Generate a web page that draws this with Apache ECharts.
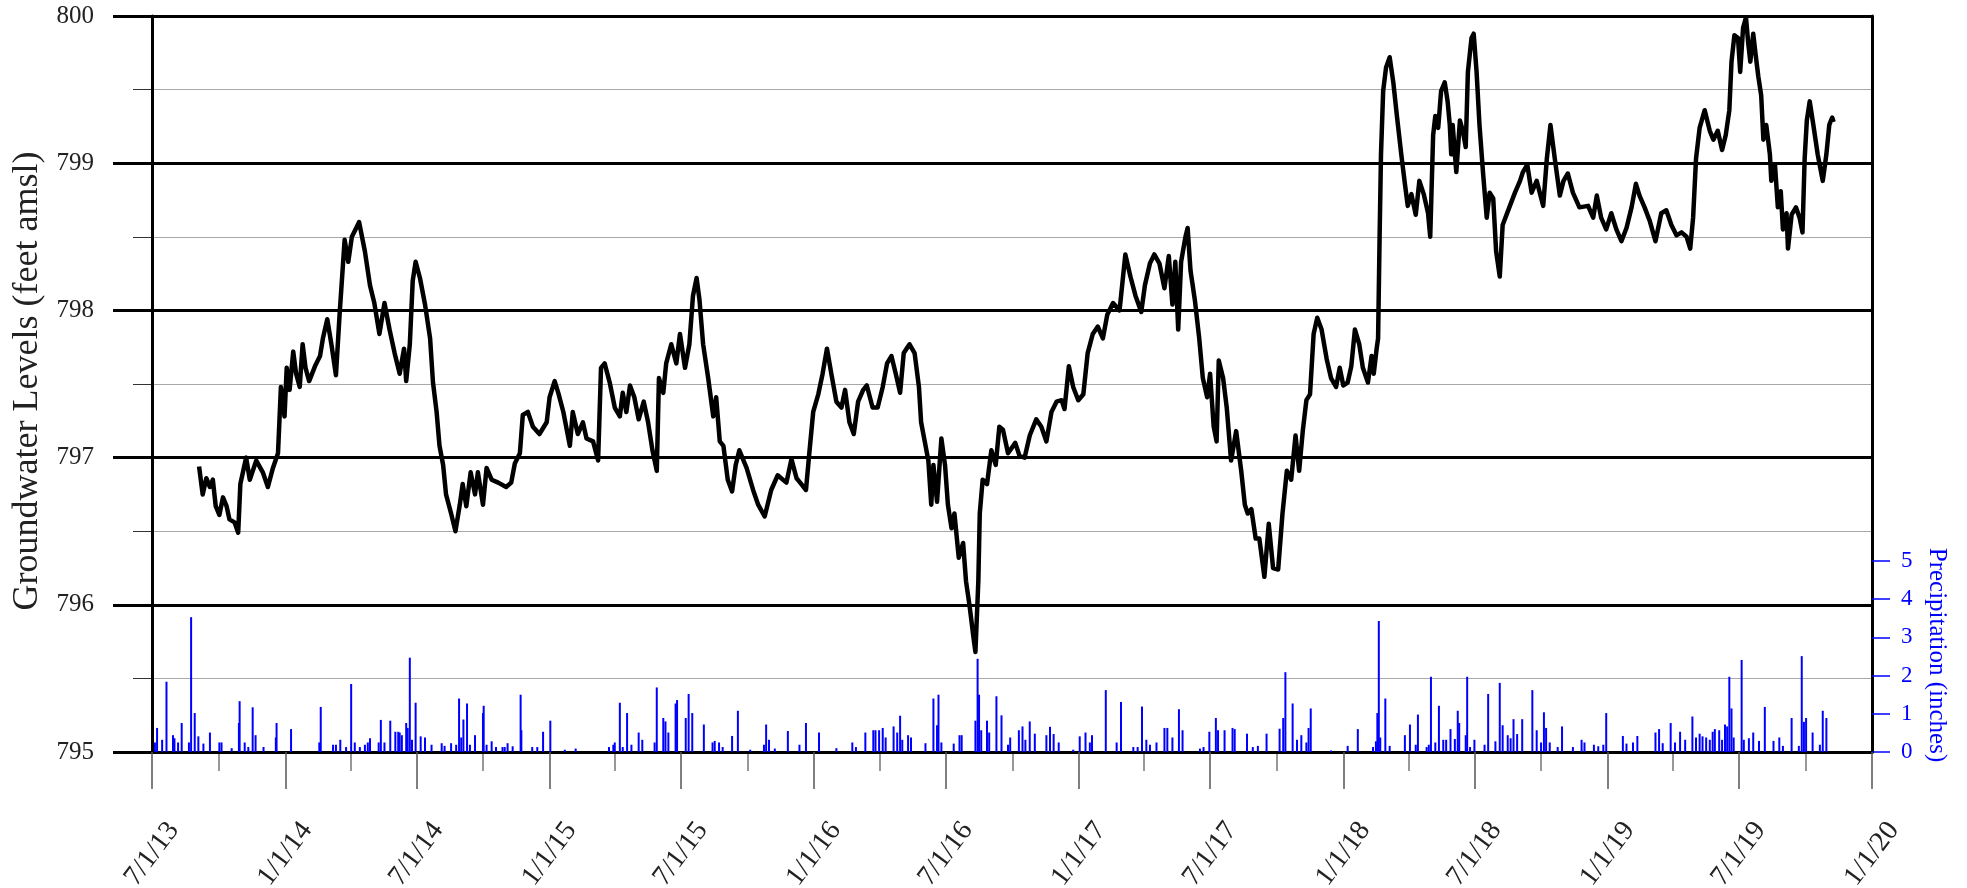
<!DOCTYPE html>
<html><head><meta charset="utf-8">
<script src="https://cdn.jsdelivr.net/npm/echarts@6/dist/echarts.min.js"></script>
<style>html,body{margin:0;padding:0;background:#fff}#c{width:1967px;height:888px}</style>
</head><body><div id="c"></div>
<script>
// ---- data ----
const groundwaterLevels = [
['2013-09-04',796.94],['2013-09-09',796.75],['2013-09-14',796.86],['2013-09-19',796.80],['2013-09-23',796.85],['2013-09-27',796.67],
['2013-10-02',796.61],['2013-10-07',796.73],['2013-10-12',796.67],['2013-10-16',796.58],['2013-10-23',796.56],['2013-10-28',796.49],
['2013-10-31',796.82],['2013-11-08',797.00],['2013-11-13',796.85],['2013-11-22',796.98],['2013-12-01',796.90],['2013-12-08',796.80],
['2013-12-15',796.93],['2013-12-22',797.03],['2013-12-26',797.48],['2013-12-31',797.28],['2014-01-03',797.61],['2014-01-07',797.46],
['2014-01-12',797.72],['2014-01-16',797.57],['2014-01-21',797.48],['2014-01-25',797.77],['2014-01-29',797.61],['2014-02-03',797.52],
['2014-02-11',797.62],['2014-02-18',797.69],['2014-02-22',797.81],['2014-02-28',797.94],['2014-03-06',797.76],['2014-03-12',797.56],
['2014-03-17',797.97],['2014-03-24',798.48],['2014-03-29',798.33],['2014-04-03',798.50],['2014-04-09',798.56],['2014-04-13',798.60],
['2014-04-21',798.40],['2014-04-28',798.17],['2014-05-04',798.05],['2014-05-11',797.84],['2014-05-18',798.05],['2014-05-25',797.87],
['2014-06-01',797.71],['2014-06-08',797.57],['2014-06-14',797.74],['2014-06-17',797.52],['2014-06-22',797.77],['2014-06-26',798.20],
['2014-06-30',798.33],['2014-07-06',798.22],['2014-07-13',798.04],['2014-07-20',797.81],['2014-07-24',797.51],['2014-07-29',797.31],
['2014-08-02',797.08],['2014-08-07',796.95],['2014-08-11',796.75],['2014-08-18',796.62],['2014-08-24',796.50],['2014-08-30',796.68],
['2014-09-03',796.82],['2014-09-08',796.67],['2014-09-14',796.90],['2014-09-20',796.75],['2014-09-24',796.90],['2014-10-01',796.68],
['2014-10-06',796.93],['2014-10-13',796.85],['2014-10-22',796.83],['2014-11-02',796.80],['2014-11-09',796.83],['2014-11-14',796.96],
['2014-11-21',797.03],['2014-11-25',797.29],['2014-12-02',797.31],['2014-12-09',797.21],['2014-12-18',797.16],['2014-12-28',797.24],
['2015-01-01',797.41],['2015-01-08',797.52],['2015-01-13',797.44],['2015-01-20',797.31],['2015-01-29',797.08],['2015-02-02',797.31],
['2015-02-09',797.16],['2015-02-16',797.24],['2015-02-21',797.13],['2015-03-02',797.11],['2015-03-09',796.98],['2015-03-13',797.61],
['2015-03-18',797.64],['2015-03-25',797.51],['2015-04-01',797.34],['2015-04-08',797.28],['2015-04-12',797.44],['2015-04-17',797.31],
['2015-04-22',797.49],['2015-04-28',797.41],['2015-05-04',797.26],['2015-05-11',797.38],['2015-05-17',797.24],['2015-05-23',797.05],
['2015-05-29',796.91],['2015-06-01',797.54],['2015-06-07',797.44],['2015-06-11',797.64],['2015-06-18',797.77],['2015-06-25',797.64],
['2015-06-30',797.84],['2015-07-07',797.61],['2015-07-13',797.77],['2015-07-18',798.10],['2015-07-23',798.22],['2015-07-27',798.07],
['2015-08-01',797.77],['2015-08-08',797.54],['2015-08-15',797.28],['2015-08-19',797.41],['2015-08-24',797.11],['2015-08-29',797.08],
['2015-09-04',796.85],['2015-09-10',796.77],['2015-09-15',796.95],['2015-09-20',797.05],['2015-09-30',796.93],['2015-10-09',796.78],
['2015-10-16',796.68],['2015-10-25',796.60],['2015-11-03',796.78],['2015-11-12',796.88],['2015-11-24',796.83],['2015-12-01',796.99],
['2015-12-08',796.86],['2015-12-13',796.83],['2015-12-21',796.78],['2015-12-26',797.05],['2015-12-31',797.31],['2016-01-07',797.43],
['2016-01-13',797.57],['2016-01-19',797.74],['2016-01-25',797.57],['2016-02-01',797.38],['2016-02-08',797.34],['2016-02-13',797.46],
['2016-02-19',797.24],['2016-02-25',797.16],['2016-03-02',797.38],['2016-03-09',797.46],['2016-03-14',797.49],['2016-03-22',797.34],
['2016-03-29',797.34],['2016-04-05',797.48],['2016-04-11',797.64],['2016-04-17',797.69],['2016-04-23',797.57],['2016-04-29',797.44],
['2016-05-04',797.71],['2016-05-12',797.77],['2016-05-19',797.71],['2016-05-25',797.48],['2016-05-28',797.24],['2016-06-02',797.11],
['2016-06-07',796.98],['2016-06-11',796.68],['2016-06-14',796.95],['2016-06-19',796.70],['2016-06-25',797.13],['2016-06-30',796.95],
['2016-07-04',796.68],['2016-07-09',796.52],['2016-07-13',796.62],['2016-07-19',796.32],['2016-07-25',796.42],['2016-07-29',796.16],
['2016-08-03',795.99],['2016-08-08',795.79],['2016-08-11',795.68],['2016-08-15',796.16],['2016-08-17',796.62],['2016-08-21',796.85],
['2016-08-27',796.82],['2016-09-02',797.05],['2016-09-08',796.95],['2016-09-13',797.21],['2016-09-18',797.19],['2016-09-25',797.03],
['2016-10-05',797.10],['2016-10-11',797.01],['2016-10-18',797.00],['2016-10-25',797.15],['2016-11-03',797.26],['2016-11-10',797.21],
['2016-11-17',797.11],['2016-11-24',797.31],['2016-12-01',797.38],['2016-12-08',797.39],['2016-12-12',797.33],['2016-12-18',797.62],
['2016-12-24',797.48],['2016-12-31',797.39],['2017-01-07',797.43],['2017-01-13',797.71],['2017-01-20',797.84],['2017-01-27',797.89],
['2017-02-03',797.81],['2017-02-09',797.97],['2017-02-17',798.05],['2017-02-26',798.00],['2017-03-06',798.38],['2017-03-13',798.23],
['2017-03-20',798.10],['2017-03-28',797.99],['2017-04-02',798.17],['2017-04-09',798.32],['2017-04-15',798.38],['2017-04-22',798.32],
['2017-04-29',798.15],['2017-05-05',798.37],['2017-05-10',798.04],['2017-05-14',798.33],['2017-05-18',797.87],['2017-05-22',798.33],
['2017-05-28',798.50],['2017-05-31',798.56],['2017-06-04',798.27],['2017-06-10',798.07],['2017-06-16',797.81],['2017-06-21',797.54],
['2017-06-27',797.41],['2017-07-01',797.57],['2017-07-06',797.21],['2017-07-10',797.11],['2017-07-13',797.66],['2017-07-19',797.54],
['2017-07-24',797.34],['2017-07-30',796.98],['2017-08-06',797.18],['2017-08-13',796.91],['2017-08-18',796.68],['2017-08-22',796.62],
['2017-08-27',796.65],['2017-09-02',796.45],['2017-09-07',796.45],['2017-09-14',796.19],['2017-09-20',796.55],['2017-09-26',796.25],
['2017-10-03',796.24],['2017-10-09',796.62],['2017-10-15',796.91],['2017-10-21',796.85],['2017-10-27',797.15],['2017-11-01',796.91],
['2017-11-06',797.18],['2017-11-11',797.39],['2017-11-16',797.43],['2017-11-21',797.84],['2017-11-26',797.95],['2017-12-02',797.87],
['2017-12-09',797.67],['2017-12-15',797.54],['2017-12-22',797.48],['2017-12-27',797.61],['2018-01-01',797.49],['2018-01-07',797.51],
['2018-01-12',797.62],['2018-01-17',797.87],['2018-01-23',797.77],['2018-01-28',797.61],['2018-02-04',797.51],['2018-02-09',797.69],
['2018-02-12',797.57],['2018-02-16',797.74],['2018-02-18',797.81],['2018-02-20',798.47],['2018-02-22',799.06],['2018-02-25',799.49],
['2018-03-01',799.65],['2018-03-06',799.72],['2018-03-11',799.55],['2018-03-16',799.32],['2018-03-22',799.06],['2018-03-27',798.86],
['2018-03-31',798.71],['2018-04-05',798.79],['2018-04-11',798.65],['2018-04-16',798.88],['2018-04-22',798.79],['2018-04-28',798.66],
['2018-05-01',798.50],['2018-05-05',799.19],['2018-05-08',799.32],['2018-05-12',799.24],['2018-05-16',799.49],['2018-05-21',799.55],
['2018-05-25',799.42],['2018-05-28',799.26],['2018-05-30',799.06],['2018-06-01',799.26],['2018-06-06',798.94],['2018-06-11',799.29],
['2018-06-15',799.22],['2018-06-19',799.11],['2018-06-22',799.62],['2018-06-27',799.85],['2018-06-30',799.88],['2018-07-04',799.62],
['2018-07-08',799.26],['2018-07-13',798.93],['2018-07-18',798.63],['2018-07-22',798.80],['2018-07-27',798.76],['2018-07-31',798.40],
['2018-08-05',798.23],['2018-08-09',798.58],['2018-08-19',798.71],['2018-08-26',798.80],['2018-09-02',798.88],['2018-09-06',798.94],
['2018-09-12',798.99],['2018-09-18',798.80],['2018-09-25',798.88],['2018-10-04',798.71],['2018-10-09',799.03],['2018-10-14',799.26],
['2018-10-20',799.03],['2018-10-27',798.78],['2018-11-01',798.88],['2018-11-07',798.93],['2018-11-14',798.80],['2018-11-23',798.70],
['2018-12-05',798.71],['2018-12-12',798.63],['2018-12-17',798.78],['2018-12-23',798.63],['2018-12-30',798.55],['2019-01-06',798.66],
['2019-01-13',798.55],['2019-01-20',798.47],['2019-01-27',798.56],['2019-02-03',798.70],['2019-02-09',798.86],['2019-02-14',798.78],
['2019-02-21',798.70],['2019-02-28',798.61],['2019-03-08',798.47],['2019-03-16',798.66],['2019-03-23',798.68],['2019-03-30',798.58],
['2019-04-06',798.51],['2019-04-13',798.53],['2019-04-20',798.50],['2019-04-25',798.42],['2019-04-29',798.63],['2019-05-03',799.03],
['2019-05-08',799.24],['2019-05-15',799.36],['2019-05-22',799.22],['2019-05-27',799.16],['2019-06-02',799.22],['2019-06-08',799.09],
['2019-06-13',799.19],['2019-06-18',799.36],['2019-06-21',799.69],['2019-06-25',799.87],['2019-06-30',799.85],['2019-07-03',799.62],
['2019-07-07',799.92],['2019-07-11',799.99],['2019-07-14',799.82],['2019-07-17',799.69],['2019-07-21',799.88],['2019-07-24',799.75],
['2019-07-28',799.59],['2019-08-01',799.46],['2019-08-04',799.16],['2019-08-08',799.26],['2019-08-13',799.06],['2019-08-15',798.88],
['2019-08-20',798.99],['2019-08-24',798.70],['2019-08-28',798.81],['2019-08-31',798.55],['2019-09-05',798.66],['2019-09-07',798.42],
['2019-09-12',798.65],['2019-09-18',798.70],['2019-09-23',798.63],['2019-09-27',798.53],['2019-09-30',799.03],['2019-10-03',799.29],
['2019-10-07',799.42],['2019-10-12',799.26],['2019-10-18',799.06],['2019-10-25',798.88],['2019-10-30',799.06],['2019-11-03',799.26],
['2019-11-07',799.31],['2019-11-09',799.28]
];

const precipitation = [
['2013-07-05',0.25],['2013-07-08',0.63],['2013-07-15',0.32],['2013-07-21',1.84],['2013-07-30',0.44],['2013-08-01',0.36],
['2013-08-06',0.25],['2013-08-11',0.76],['2013-08-21',0.25],['2013-08-24',3.53],['2013-08-29',1.02],['2013-09-03',0.41],
['2013-09-10',0.22],['2013-09-19',0.51],['2013-10-02',0.25],['2013-10-05',0.25],['2013-10-19',0.10],['2013-10-29',0.76],
['2013-10-30',1.33],['2013-11-06',0.25],['2013-11-11',0.13],['2013-11-17',1.17],['2013-11-21',0.44],['2013-12-02',0.13],
['2013-12-19',0.38],['2013-12-20',0.76],['2014-01-09',0.60],['2014-02-17',0.25],['2014-02-19',1.18],['2014-03-08',0.19],
['2014-03-12',0.19],['2014-03-18',0.32],['2014-03-26',0.13],['2014-04-02',1.78],['2014-04-07',0.25],['2014-04-14',0.13],
['2014-04-21',0.19],['2014-04-25',0.25],['2014-04-28',0.36],['2014-05-10',0.25],['2014-05-13',0.84],['2014-05-18',0.25],
['2014-05-26',0.82],['2014-06-02',0.53],['2014-06-06',0.53],['2014-06-08',0.51],['2014-06-11',0.44],['2014-06-17',0.76],
['2014-06-19',0.63],['2014-06-22',2.47],['2014-06-25',0.32],['2014-06-30',1.29],['2014-07-07',0.41],['2014-07-13',0.38],
['2014-07-22',0.19],['2014-08-05',0.23],['2014-08-09',0.16],['2014-08-18',0.23],['2014-08-25',0.19],['2014-08-29',1.40],
['2014-09-01',0.38],['2014-09-04',0.85],['2014-09-09',1.27],['2014-09-13',0.19],['2014-09-20',0.44],['2014-10-01',1.02],
['2014-10-02',1.21],['2014-10-06',0.19],['2014-10-13',0.28],['2014-10-19',0.13],['2014-10-28',0.13],['2014-10-31',0.13],
['2014-11-04',0.23],['2014-11-11',0.15],['2014-11-22',1.50],['2014-11-23',0.57],['2014-12-08',0.13],['2014-12-15',0.13],
['2014-12-23',0.53],['2015-01-02',0.82],['2015-01-22',0.06],['2015-02-06',0.09],['2015-03-24',0.13],['2015-03-30',0.19],
['2015-04-01',0.25],['2015-04-08',1.29],['2015-04-12',0.13],['2015-04-18',1.02],['2015-04-24',0.19],['2015-05-04',0.51],
['2015-05-09',0.32],['2015-05-26',0.25],['2015-05-29',1.69],['2015-06-07',0.89],['2015-06-10',0.80],['2015-06-14',0.51],
['2015-06-24',1.27],['2015-06-26',1.36],['2015-07-08',0.89],['2015-07-12',1.52],['2015-07-17',1.02],['2015-08-02',0.72],
['2015-08-14',0.25],['2015-08-17',0.29],['2015-08-23',0.25],['2015-08-28',0.13],['2015-09-10',0.42],['2015-09-18',1.08],
['2015-10-05',0.06],['2015-10-24',0.19],['2015-10-27',0.72],['2015-10-31',0.32],['2015-11-08',0.09],['2015-11-26',0.55],
['2015-12-12',0.19],['2015-12-21',0.76],['2016-01-08',0.51],['2016-02-01',0.10],['2016-02-23',0.25],['2016-02-28',0.13],
['2016-03-12',0.51],['2016-03-23',0.57],['2016-03-26',0.57],['2016-03-31',0.57],['2016-04-05',0.63],['2016-04-09',0.38],
['2016-04-20',0.67],['2016-04-25',0.51],['2016-04-29',0.95],['2016-05-02',0.32],['2016-05-10',0.44],['2016-05-14',0.38],
['2016-06-03',0.23],['2016-06-14',1.40],['2016-06-19',0.70],['2016-06-21',1.50],['2016-06-25',0.25],['2016-07-12',0.22],
['2016-07-20',0.44],['2016-07-23',0.44],['2016-08-11',0.82],['2016-08-14',2.44],['2016-08-16',1.50],['2016-08-19',0.57],
['2016-08-27',0.82],['2016-08-30',0.51],['2016-09-09',1.46],['2016-09-16',0.96],['2016-09-25',0.19],['2016-09-28',0.38],
['2016-10-10',0.57],['2016-10-15',0.67],['2016-10-19',0.32],['2016-10-25',0.80],['2016-11-01',0.48],['2016-11-17',0.44],
['2016-11-22',0.66],['2016-11-27',0.47],['2016-12-04',0.25],['2016-12-24',0.06],['2017-01-02',0.41],['2017-01-10',0.51],
['2017-01-16',0.25],['2017-01-19',0.44],['2017-02-07',1.62],['2017-02-22',0.25],['2017-02-28',1.31],['2017-03-17',0.13],
['2017-03-23',0.13],['2017-03-29',1.19],['2017-04-04',0.32],['2017-04-09',0.19],['2017-04-18',0.25],['2017-04-29',0.63],
['2017-05-03',0.63],['2017-05-10',0.38],['2017-05-19',1.12],['2017-05-24',0.57],['2017-06-17',0.09],['2017-06-22',0.13],
['2017-06-30',0.53],['2017-07-09',0.89],['2017-07-12',0.57],['2017-07-21',0.57],['2017-08-01',0.63],['2017-08-04',0.60],
['2017-08-21',0.48],['2017-08-29',0.13],['2017-09-05',0.16],['2017-09-17',0.48],['2017-10-05',0.61],['2017-10-10',0.89],
['2017-10-13',2.09],['2017-10-23',1.27],['2017-10-29',0.32],['2017-11-04',0.44],['2017-11-11',0.25],['2017-11-14',0.63],
['2017-11-17',1.14],['2017-12-15',0.04],['2018-01-07',0.16],['2018-01-21',0.60],['2018-02-11',0.13],['2018-02-15',0.28],
['2018-02-17',1.02],['2018-02-19',3.43],['2018-02-21',0.38],['2018-02-28',1.40],['2018-03-06',0.16],['2018-03-27',0.44],
['2018-04-03',0.72],['2018-04-11',0.19],['2018-04-14',0.98],['2018-04-26',0.13],['2018-04-29',0.19],['2018-05-02',1.97],
['2018-05-08',0.25],['2018-05-13',1.21],['2018-05-19',0.32],['2018-05-23',0.32],['2018-05-29',0.60],['2018-06-04',0.34],
['2018-06-08',1.08],['2018-06-10',0.76],['2018-06-19',0.44],['2018-06-21',1.97],['2018-06-25',0.13],['2018-07-01',0.32],
['2018-07-15',0.19],['2018-07-20',1.52],['2018-07-30',0.28],['2018-08-05',1.81],['2018-08-09',0.70],['2018-08-16',0.44],
['2018-08-20',0.36],['2018-08-24',0.86],['2018-08-29',0.47],['2018-09-05',0.86],['2018-09-19',1.62],['2018-09-25',0.57],
['2018-10-01',0.25],['2018-10-05',1.04],['2018-10-08',0.63],['2018-10-13',0.25],['2018-10-24',0.13],['2018-10-30',0.67],
['2018-11-14',0.13],['2018-11-26',0.32],['2018-11-30',0.25],['2018-12-13',0.19],['2018-12-19',0.15],['2018-12-26',0.19],
['2018-12-30',1.02],['2019-01-22',0.42],['2019-01-27',0.22],['2019-02-05',0.25],['2019-02-11',0.42],['2019-03-08',0.51],
['2019-03-13',0.60],['2019-03-18',0.23],['2019-03-29',0.76],['2019-04-04',0.25],['2019-04-11',0.53],['2019-04-18',0.32],
['2019-04-28',0.93],['2019-05-03',0.38],['2019-05-08',0.48],['2019-05-12',0.41],['2019-05-17',0.38],['2019-05-22',0.32],
['2019-05-26',0.53],['2019-05-29',0.60],['2019-06-04',0.57],['2019-06-08',0.32],['2019-06-12',0.72],['2019-06-15',0.67],
['2019-06-18',1.97],['2019-06-21',1.14],['2019-06-24',0.38],['2019-07-05',2.41],['2019-07-08',0.32],['2019-07-15',0.36],
['2019-07-21',0.51],['2019-07-29',0.29],['2019-08-06',1.18],['2019-08-18',0.29],['2019-08-26',0.38],['2019-08-31',0.16],
['2019-09-12',0.89],['2019-09-22',0.16],['2019-09-26',2.51],['2019-09-29',0.79],['2019-10-02',0.89],['2019-10-11',0.51],
['2019-10-21',0.19],['2019-10-25',1.08],['2019-10-30',0.89]
];

const majorDateTicks = ['2013-07-01','2014-01-01','2014-07-01','2015-01-01','2015-07-01','2016-01-01','2016-07-01',
  '2017-01-01','2017-07-01','2018-01-01','2018-07-01','2019-01-01','2019-07-01','2020-01-01'];
const minorDateTicks = ['2013-10-01','2014-04-01','2014-10-01','2015-04-01','2015-10-01','2016-04-01','2016-10-01',
  '2017-04-01','2017-10-01','2018-04-01','2018-10-01','2019-04-01','2019-10-01'];
const precipTicks = [0, 1, 2, 3, 4, 5];

// ---- chart ----
const ts = s => { const [y, m, d] = s.split('-').map(Number); return new Date(y, m - 1, d).getTime(); };
const FONT = '"Liberation Serif", "Times New Roman", serif';
const fmtDate = v => { const d = new Date(v); return (d.getMonth() + 1) + '/' + d.getDate() + '/' + String(d.getFullYear()).slice(2); };
const xMin = ts(majorDateTicks[0]), xMax = ts(majorDateTicks[majorDateTicks.length - 1]);

const chart = echarts.init(document.getElementById('c'), null, { renderer: 'canvas' });
chart.setOption({
  animation: false,
  backgroundColor: '#fff',
  grid: { left: 152, right: 95, top: 16, bottom: 136, containLabel: false, outerBoundsMode: 'none' },
  xAxis: [
    {
      type: 'value', position: 'bottom', min: xMin, max: xMax, z: 3,
      axisLine: { show: true, lineStyle: { color: '#000', width: 3 } },
      axisTick: { show: true, customValues: majorDateTicks.map(ts), length: 37, lineStyle: { color: '#555', width: 1.5 } },
      axisLabel: { show: true, customValues: majorDateTicks.map(ts), formatter: fmtDate, rotate: 53, align: 'center', verticalAlign: 'middle',
        margin: 102, fontFamily: FONT, fontSize: 28, color: '#222', hideOverlap: false },
      splitLine: { show: false }
    },
    {
      type: 'value', position: 'bottom', min: xMin, max: xMax, z: 1,
      axisLine: { show: false },
      axisTick: { show: true, customValues: minorDateTicks.map(ts), length: 19, lineStyle: { color: '#777', width: 1.5 } },
      axisLabel: { show: false },
      splitLine: { show: false }
    }
  ],
  yAxis: [
    {
      type: 'value', position: 'left', min: 795, max: 800, interval: 1, z: 2,
      axisLine: { show: true, lineStyle: { color: '#000', width: 3 } },
      axisTick: { show: true, length: 39, lineStyle: { color: '#000', width: 3 } },
      axisLabel: { margin: 58, fontFamily: FONT, fontSize: 25, color: '#222' },
      splitLine: { show: true, lineStyle: { color: '#000', width: 3 } }
    },
    {
      type: 'value', position: 'left', min: 795, max: 800, interval: 0.5, z: 0,
      axisLine: { show: false },
      axisTick: { show: true, length: 19, lineStyle: { color: '#333', width: 1 } },
      axisLabel: { show: false },
      splitLine: { show: true, lineStyle: { color: '#a8a8a8', width: 1 } }
    },
    {
      type: 'value', position: 'right', min: 0, max: 19.27, z: 2,
      axisLine: { show: true, lineStyle: { color: '#000', width: 3 } },
      axisTick: { show: true, customValues: precipTicks, length: 18, lineStyle: { color: '#0000ff', width: 1.5 } },
      axisLabel: { show: true, customValues: precipTicks, margin: 29, fontFamily: FONT, fontSize: 23, color: '#0000ff' },
      splitLine: { show: false }
    }
  ],
  graphic: [
    { type: 'text', x: 28, y: 381, rotation: Math.PI / 2, z: 10,
      style: { text: 'Groundwater Levels (feet amsl)', font: '36px ' + FONT, fill: '#222', align: 'center', verticalAlign: 'middle' } },
    { type: 'text', x: 1937, y: 655, rotation: -Math.PI / 2, z: 10,
      style: { text: 'Precipitation (inches)', font: '25px ' + FONT, fill: '#0000ff', align: 'center', verticalAlign: 'middle' } }
  ],
  series: [
    {
      type: 'bar', name: 'Precipitation', xAxisIndex: 0, yAxisIndex: 2, barWidth: 2, z: 4,
      itemStyle: { color: '#0000ff' },
      data: precipitation.map(p => [ts(p[0]), p[1]])
    },
    {
      type: 'line', name: 'Groundwater', xAxisIndex: 0, yAxisIndex: 0, z: 5,
      showSymbol: false, symbol: 'none',
      lineStyle: { color: '#000', width: 4.5, join: 'round' },
      data: groundwaterLevels.map(p => [ts(p[0]), p[1]])
    }
  ]
});
</script></body></html>
